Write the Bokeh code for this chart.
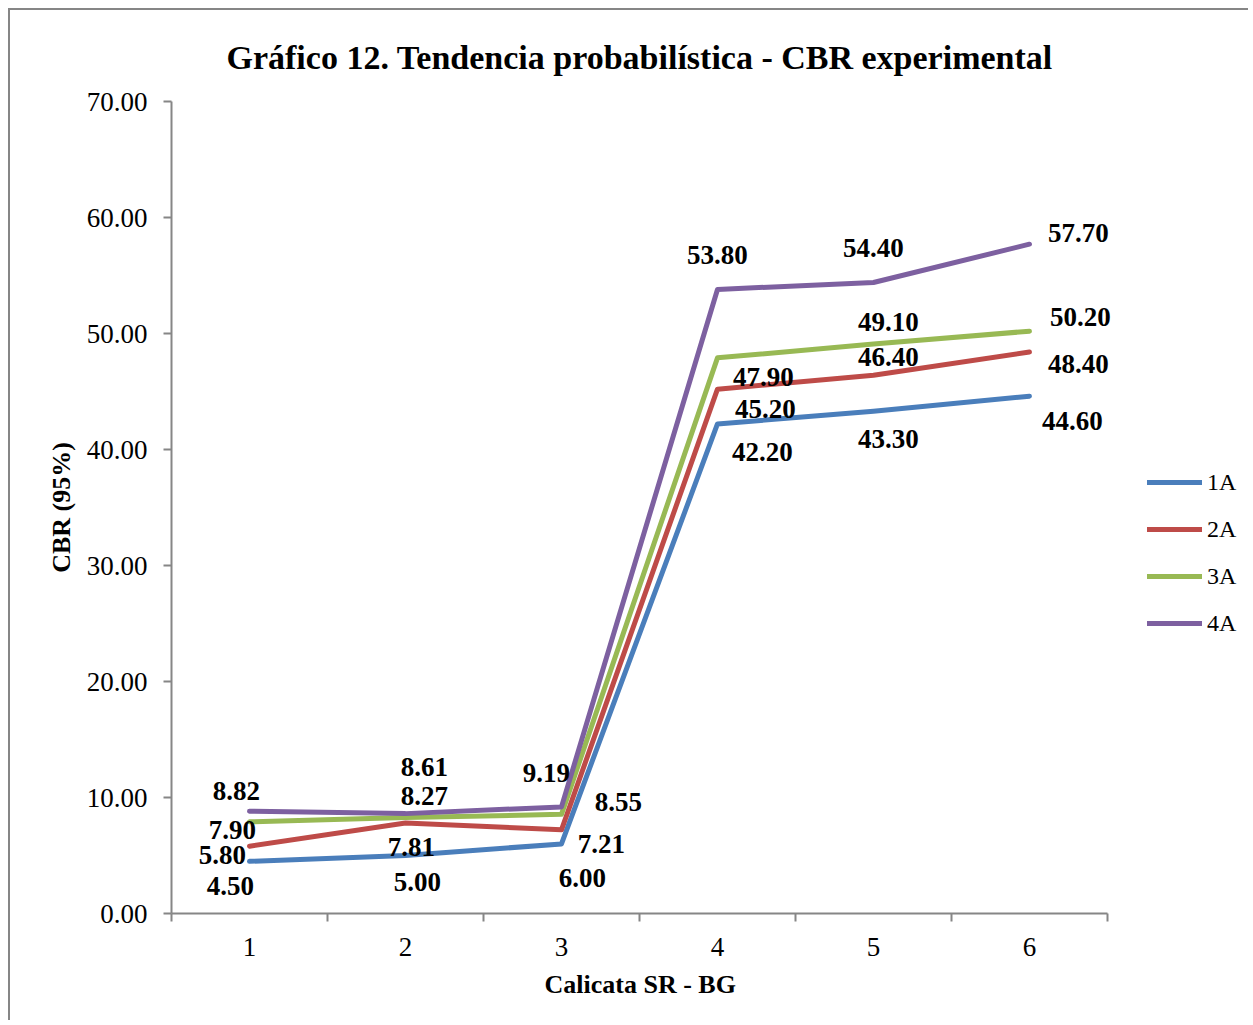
from bokeh.plotting import figure
from bokeh.models import (ColumnDataSource, FixedTicker, NumeralTickFormatter,
                          Legend, LegendItem, Range1d, Title)
from bokeh.embed import file_html
from bokeh.resources import INLINE
from bokeh.core.properties import value

# ---- data ----
calicatas = [1, 2, 3, 4, 5, 6]
series_names = ["1A", "2A", "3A", "4A"]
cbr_1a = [4.50, 5.00, 6.00, 42.20, 43.30, 44.60]
cbr_2a = [5.80, 7.81, 7.21, 45.20, 46.40, 48.40]
cbr_3a = [7.90, 8.27, 8.55, 47.90, 49.10, 50.20]
cbr_4a = [8.82, 8.61, 9.19, 53.80, 54.40, 57.70]
y_ticks = [0, 10, 20, 30, 40, 50, 60, 70]

# ---- styles ----
colors = ["#4A7EBB", "#BE4B48", "#98B954", "#7D60A0"]
# data-label offsets in screen pixels (dx right, dy down)
label_dx = [[-19, 12, 21, 45, 15, 43],
            [-27, 6, 40, 48, 15, 49],
            [-17, 19, 57, 46, 15, 51],
            [-13, 19, -15, 0, 0, 49]]
label_dy = [[25, 26, 34, 28, 28, 25],
            [9, 24, 14, 20, -18, 12],
            [8, -22, -12, 19, -22, -14],
            [-20, -47, -34, -34, -34, -11]]

FONT = "Liberation Serif"
AXIS_COLOR = "#868686"

# frame spans to the right edge (room for the legend); the x axis itself is
# bounded to the six categories
p = figure(width=1240, height=1012, output_backend="svg", toolbar_location=None,
           x_range=Range1d(0.5, 7.417), y_range=Range1d(0, 70),
           min_border_left=161, min_border_right=0,
           min_border_top=91, min_border_bottom=109)
p.styles = {"margin-left": "8px", "margin-top": "8px",
            "border-left": "2px solid #868686", "border-top": "2px solid #868686"}

p.title.text = "Gráfico 12. Tendencia probabilística - CBR experimental"
p.title.align = "left"
p.title.vertical_align = "top"
p.title.text_font = FONT
p.title.text_font_size = "34px"
p.title.text_font_style = "bold"
p.title.text_color = "black"
p.title.offset = 55
p.title.standoff = 48

p.grid.visible = False
p.outline_line_color = None
p.background_fill_color = "white"
p.border_fill_color = "white"

# x axis
p.xaxis.bounds = (0.5, 6.5)
p.xaxis.ticker = FixedTicker(ticks=calicatas,
                             minor_ticks=[0.5, 1.5, 2.5, 3.5, 4.5, 5.5, 6.5])
p.xaxis.major_tick_line_color = None
p.xaxis.major_tick_out = 8
p.xaxis.major_tick_in = 0
p.xaxis.minor_tick_line_color = AXIS_COLOR
p.xaxis.minor_tick_line_width = 2
p.xaxis.minor_tick_out = 8
p.xaxis.minor_tick_in = 0
p.xaxis.major_label_standoff = 16

# y axis
p.yaxis.ticker = FixedTicker(ticks=y_ticks, minor_ticks=[])
p.yaxis.formatter = NumeralTickFormatter(format="0.00")
p.yaxis.major_tick_line_color = AXIS_COLOR
p.yaxis.major_tick_line_width = 2
p.yaxis.major_tick_out = 8
p.yaxis.major_tick_in = 0
p.yaxis.major_label_standoff = 16
p.yaxis.axis_label = "CBR (95%)"
p.yaxis.axis_label_standoff = 8

for ax in (p.xaxis, p.yaxis):
    ax.axis_line_color = AXIS_COLOR
    ax.axis_line_width = 2
    ax.major_label_text_font = FONT
    ax.major_label_text_font_size = "27px"
    ax.major_label_text_color = "black"
    ax.axis_label_text_font = FONT
    ax.axis_label_text_font_size = "26px"
    ax.axis_label_text_font_style = "bold"
    ax.axis_label_text_color = "black"

# x-axis title, centred under the six categories (the frame is wider than the axis)
xtitle = Title(text="Calicata SR - BG", align="left", offset=373, standoff=18,
               text_font=FONT, text_font_size="26px", text_font_style="bold",
               text_color="black")
p.add_layout(xtitle, "below")

all_series = [cbr_1a, cbr_2a, cbr_3a, cbr_4a]
items = []
for name, vals, col in zip(series_names, all_series, colors):
    src = ColumnDataSource(dict(x=calicatas, y=vals))
    r = p.line("x", "y", source=src, line_color=col, line_width=5,
               line_cap="round", line_join="round")
    items.append(LegendItem(label=name, renderers=[r]))

for name, vals, dx, dy in zip(series_names, all_series, label_dx, label_dy):
    src = ColumnDataSource(dict(x=calicatas, y=vals,
                                txt=["%.2f" % v for v in vals], dx=dx, dy=dy))
    p.text("x", "y", text="txt", source=src, x_offset="dx", y_offset="dy",
           text_align="center", text_baseline="middle",
           text_font=value(FONT), text_font_size="27px", text_font_style="bold",
           text_color="black")

legend = Legend(items=items, location=(976, 270))
legend.border_line_color = None
legend.background_fill_alpha = 0
legend.padding = 0
legend.margin = 0
legend.spacing = 7
legend.glyph_width = 55
legend.glyph_height = 40
legend.label_height = 40
legend.label_standoff = 5
legend.label_text_font = FONT
legend.label_text_font_size = "24px"
legend.label_text_color = "black"
p.add_layout(legend, "center")

open("out.html", "w").write(file_html(p, INLINE))
